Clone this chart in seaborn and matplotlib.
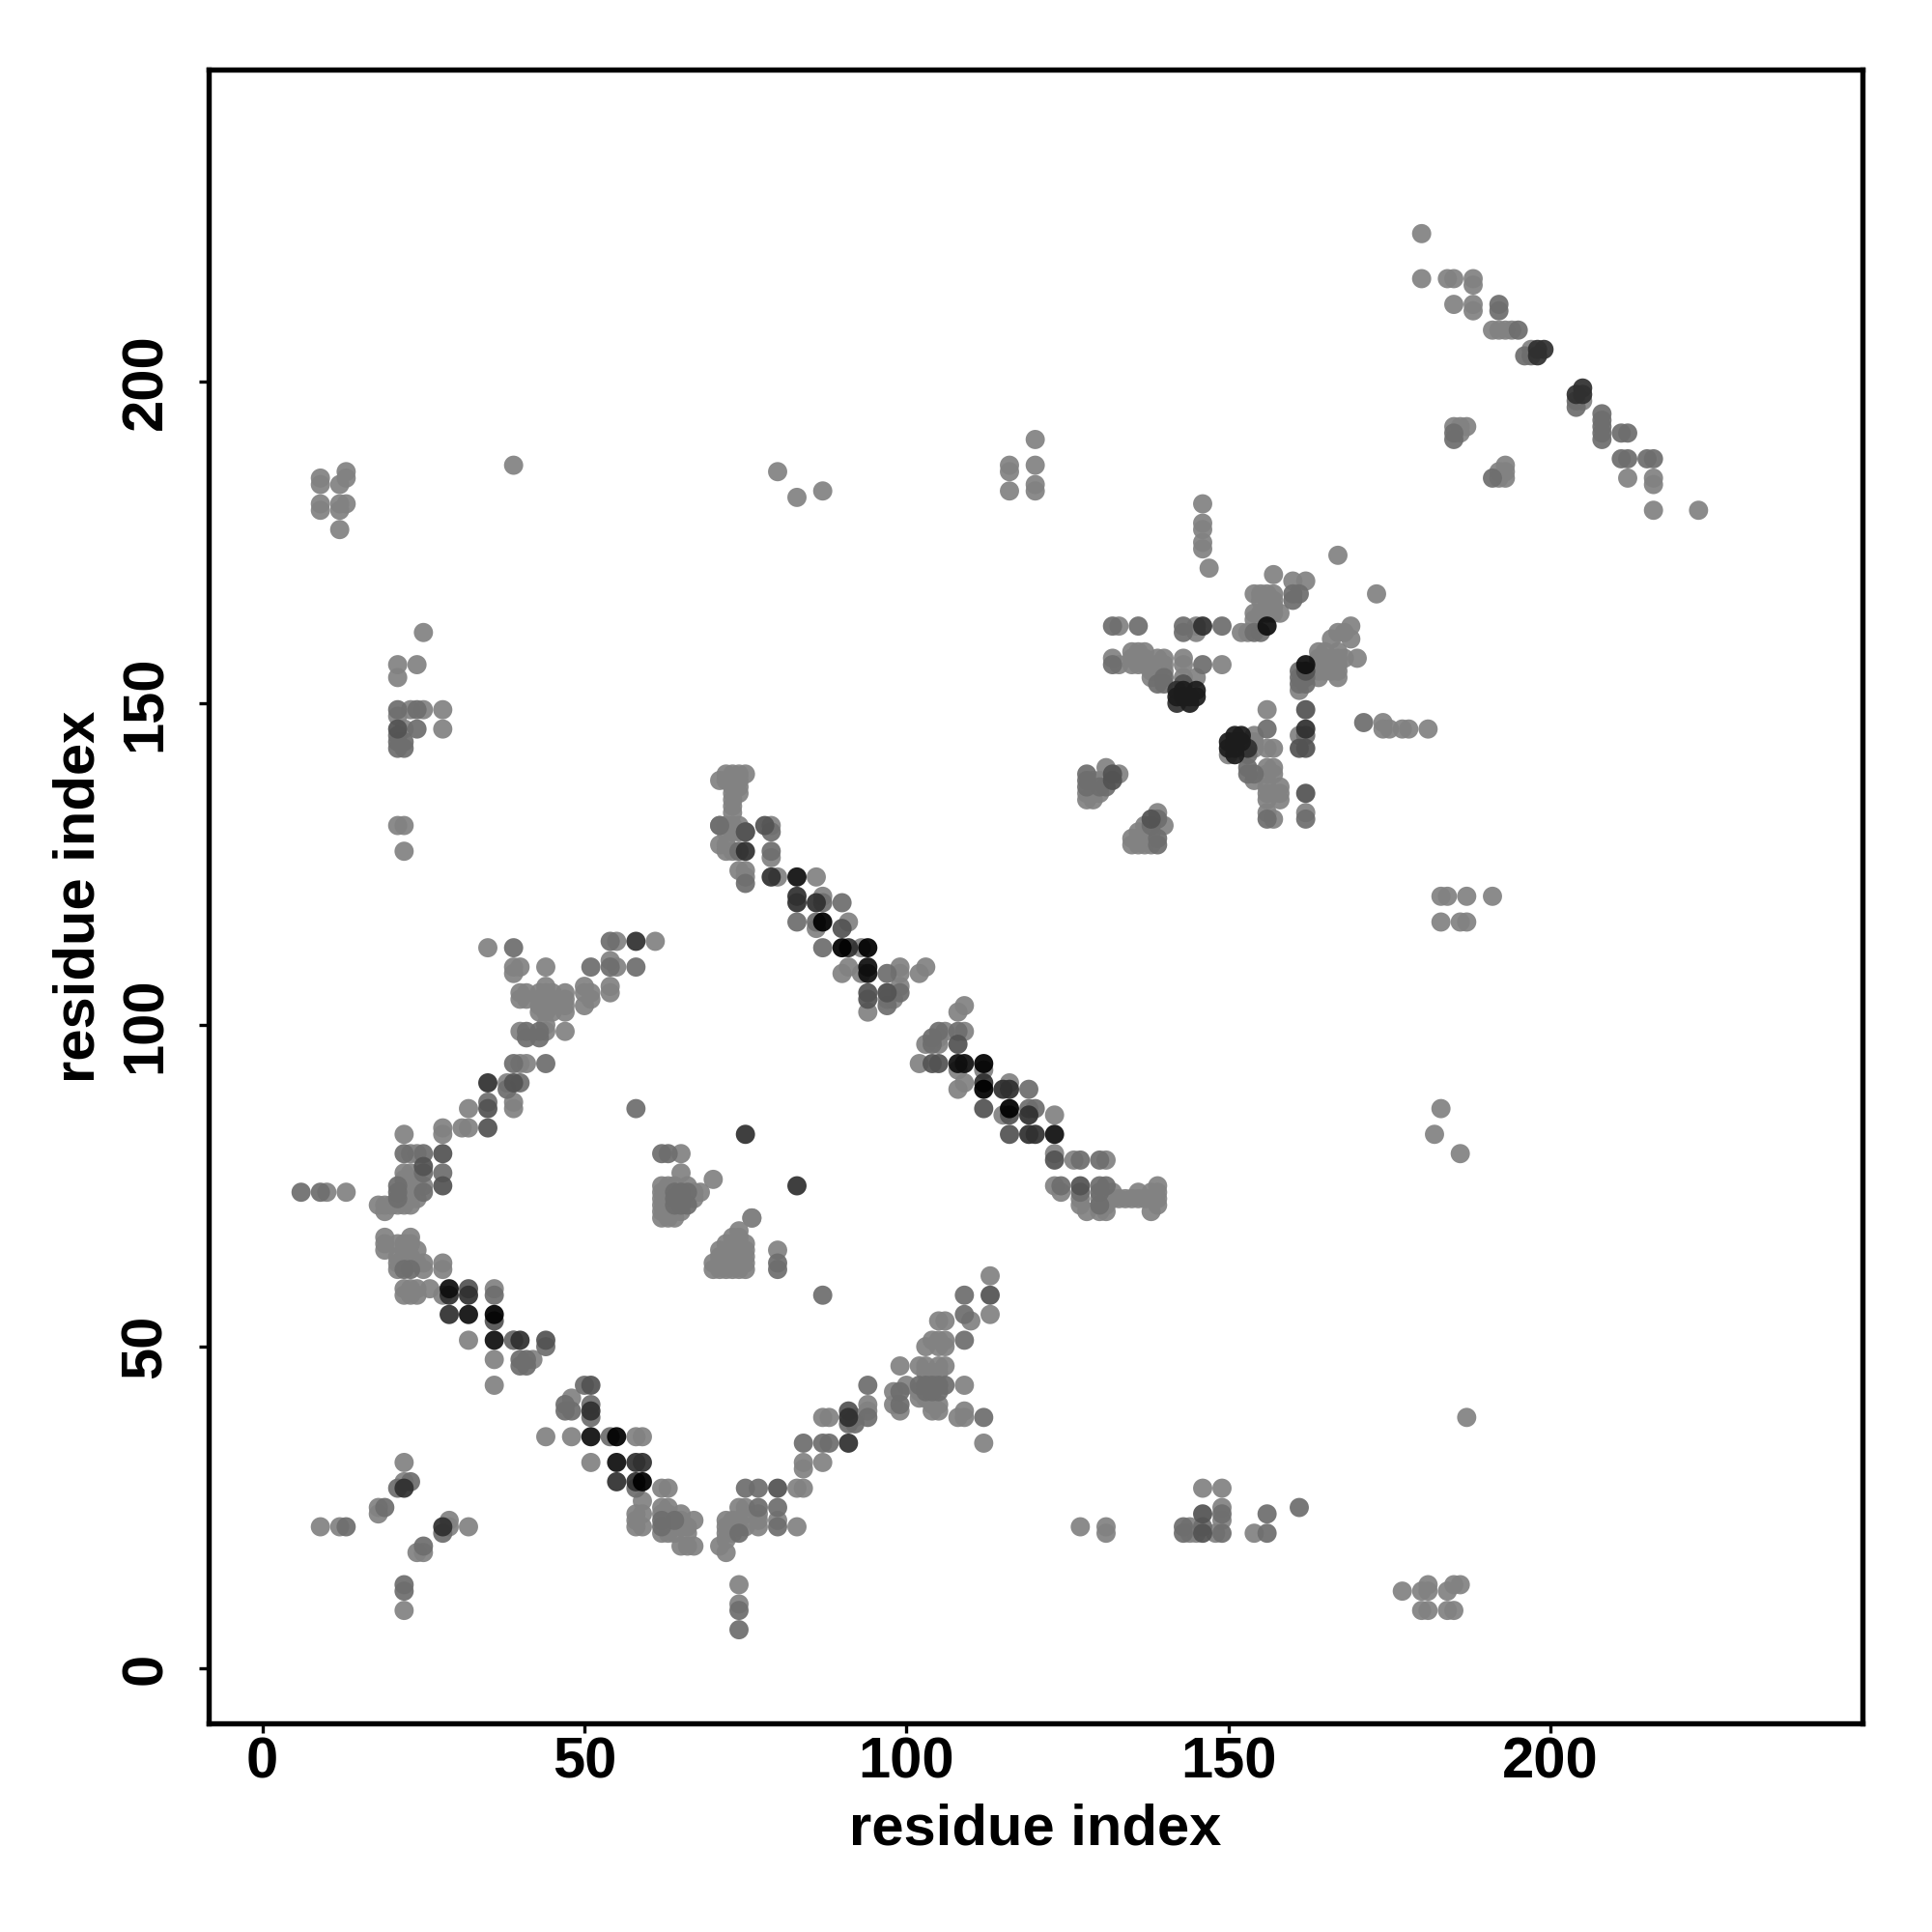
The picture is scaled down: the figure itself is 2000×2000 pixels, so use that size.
import matplotlib
matplotlib.use("Agg")
import matplotlib.pyplot as plt
import pandas as pd
import seaborn as sns

tick_values = [0, 50, 100, 150, 200]
axis_label = "residue index"

points_light = [
    (9,22),(12,22),(18,24),(18,25),(22,32),(22,29),(24,18),(25,18),(22,9),(29,23),(29,22),(32,22),
    (19,67),(19,66),(19,65),(23,67),(21,66),(22,66),(23,66),(24,65),(21,64),(22,64),(23,64),(25,63),(24,63),(21,63),(21,62),(25,62),(28,63),(28,62),
    (22,59),(23,59),(24,59),(26,59),(22,58),(23,58),(24,58),(28,58),(36,59),(32,51),(39,51),(36,48),(42,48),(36,44),(48,42),(44,36),(48,36),(58,36),(59,36),(51,32),
    (62,28),(63,28),(59,26),(58,24),(58,23),(58,22),(59,24),(59,22),(62,25),(63,25),(62,24),(63,24),(65,24),(63,22),(62,21),(65,22),(66,22),(67,23),(66,21),(65,19),(66,19),(67,19),(64,21),(63,21),(65,23),
    (71,19),(72,18),(72,20),(72,23),(72,22),(72,21),(74,25),(74,22),(73,21),(75,22),(77,22),(77,23),(75,25),(75,24),(77,24),(73,23),(74,23),(80,23),(83,22),(83,28),(84,28),(84,32),(84,31),(74,13),(74,10),
    (70,62),(71,62),(72,62),(73,62),(74,62),(75,62),(70,63),(71,63),(72,63),(73,63),(74,63),(75,63),(71,64),(72,64),(73,64),(74,64),(75,64),(71,65),(72,65),(73,65),(74,65),(75,65),(72,66),(73,66),(74,66),(75,66),(73,67),(74,67),(74,68),(76,70),(80,65),
    (113,61),(113,55),(105,54),(106,54),(110,54),(104,51),(105,51),(106,51),(103,50),(105,50),(106,50),(99,47),(102,47),(103,47),(105,47),(106,47),(103,46),(104,46),(105,46),(109,44),(100,44),(98,43),(102,43),(103,42),(102,42),(98,41),(104,41),(105,41),(99,40),(104,40),(105,40),(109,40),(108,39),(109,39),(112,35),(94,41),(94,40),(87,39),(88,39),(92,39),(87,32),
    (127,22),(131,22),(131,21),(146,28),(149,28),(149,25),(149,23),(144,22),(144,21),(145,21),(148,21),(154,21),
    (35,112),(39,109),(40,109),(39,108),(44,109),(54,110),(55,109),(55,113),(61,113),(54,106),(54,105),(50,106),(50,105),(50,103),(51,105),(51,104),
    (40,105),(41,105),(44,106),(43,105),(44,105),(45,105),(47,105),(40,104),(41,104),(43,104),(44,104),(45,104),(47,104),(43,103),(44,103),(45,103),(47,103),(43,102),(44,102),(45,102),(47,102),
    (40,99),(44,99),(47,99),(44,100),(40,94),(41,94),(38,91),(39,88),(39,87),(32,87),(31,84),(32,84),(28,84),(28,83),(22,83),(23,80),(24,80),(22,77),(23,77),(22,75),(23,75),(24,75),(25,75),(22,74),(23,74),(18,72),(19,72),(20,72),(21,72),(22,72),(23,72),(19,71),(22,73),(23,73),(24,73),(24,76),(23,76),(22,76),
    (10,74),(13,74),(65,80),(65,77),(70,76),(76,70),(62,75),(63,75),(64,75),(66,75),(67,74),(68,74),(62,74),(63,74),(62,73),(66,73),(67,73),(62,72),(63,72),(62,71),(63,71),(64,71),(65,71),(62,70),(63,70),(64,70),
    (72,139),(73,139),(74,139),(75,139),(71,138),(72,138),(73,138),(74,138),(73,137),(74,137),(73,136),(74,136),(73,135),(73,134),(73,133),(71,131),(72,131),(73,131),(74,131),(79,131),(72,130),(73,130),(74,130),(71,128),(72,128),(72,127),(73,127),(79,126),(74,124),(75,124),(75,123),(80,123),(86,123),
    (87,120),(86,115),(91,116),(93,112),(90,108),(91,109),(93,108),(99,109),(99,108),(102,108),(103,109),(94,102),(97,105),(99,106),(98,104),(97,104),(109,103),(108,102),(106,99),(109,99),(105,98),(103,97),(105,97),(102,94),(108,93),(112,93),(108,90),(109,91),(116,91),(115,86),(123,86),(123,80),(126,79),(131,79),
    (123,75),(124,74),(127,73),(127,72),(128,71),(130,73),(131,71),(131,73),(132,74),(132,73),(133,73),(134,73),(135,73),(136,74),(136,73),(137,73),(138,74),(138,73),(139,75),(139,74),(139,73),(138,71),(139,72),(130,71),(131,72),
    (131,140),(133,139),(129,138),(130,138),(129,137),(128,136),(129,136),(130,136),(128,135),(129,135),(139,133),(140,131),(137,131),(136,130),(137,130),(138,130),(135,129),(136,129),(137,129),(135,128),(136,128),(137,128),(138,128),
    (133,162),(145,162),(145,161),(152,161),(153,161),(132,157),(133,156),(135,158),(136,158),(137,158),(135,157),(136,157),(137,157),(135,156),(136,156),(137,156),(139,157),(140,157),(138,156),(139,156),(140,156),(143,157),(143,156),(149,156),(138,155),(139,155),(140,155),(138,154),(143,154),(145,154),
    (146,181),(146,178),(146,177),(146,175),(146,174),(147,171),(167,173),(173,167),(157,170),(160,169),(162,169),(154,167),(155,167),(156,167),(157,167),(155,166),(156,166),(157,166),(154,164),(156,165),(157,165),(158,164),(155,164),(156,164),(157,164),(154,163),
    (169,162),(167,161),(168,161),(166,160),(169,160),(164,158),(165,158),(167,158),(164,157),(165,157),(166,157),(167,157),(168,157),(164,156),(165,156),(166,156),(167,156),(170,157),(164,154),(167,154),(164,155),(165,155),(166,155),(167,155),(161,152),
    (156,149),(161,145),(174,147),(174,146),(175,146),(177,146),(178,146),(181,146),(150,142),(154,145),(153,144),(154,144),(154,143),(156,143),(157,143),(154,138),(156,140),(157,140),(156,139),(157,139),(156,137),(158,137),(156,136),(158,136),(156,135),(158,135),(156,133),(157,132),(162,133),
    (180,223),(180,216),(184,216),(185,216),(188,216),(188,215),(185,212),(188,212),(188,211),(191,208),(192,208),(193,208),(194,208),(197,205),(205,197),(212,185),(216,185),(216,184),(216,180),(223,180),(185,193),(186,193),(187,193),(186,192),(193,187),(192,186),(193,186),(192,185),(193,185),
    (9,181),(9,180),(9,185),(9,184),(12,184),(13,186),(13,185),(12,181),(12,180),(13,181),(12,177),(39,187),(80,186),(83,182),(87,183),(120,191),(116,187),(116,186),(116,183),(120,187),(120,184),(120,183),
    (25,161),(21,156),(24,156),(21,154),(23,149),(25,149),(28,149),(22,146),(28,146),(21,148),(21,131),(22,131),(22,127),
    (183,120),(184,120),(187,120),(191,120),(183,116),(186,116),(187,116),(183,87),(182,83),(186,80),(187,39),
    (177,12),(180,12),(181,13),(181,12),(184,12),(185,13),(186,13),(180,9),(181,9),(184,9),(185,9),
]
points_mid = [
    (13,22),(19,25),(23,29),(21,28),(28,21),(25,19),(22,13),(22,12),
    (36,58),(22,62),(23,62),(39,51),(44,50),(40,48),(40,47),(41,48),(41,47),(50,44),(47,41),(48,40),(47,40),(51,41),(51,39),(54,36),(58,28),
    (64,23),(62,23),(62,22),(77,25),(80,25),(80,22),(75,28),(77,28),(84,35),(74,9),(74,6),(74,21),(80,63),(80,62),
    (87,58),(109,58),(109,55),(109,51),(106,44),(102,44),(103,44),(104,44),(105,44),(94,44),(99,43),(103,43),(104,43),(105,43),(99,41),(112,39),(94,39),(92,38),(91,38),(87,35),(88,35),(161,25),(156,24),(156,21),(146,22),(143,22),(143,21),(149,24),(149,21),(131,75),
    (39,112),(51,109),(54,109),(58,109),(54,113),(58,87),(41,99),(43,99),(41,98),(43,98),(39,94),(44,94),(40,91),(38,90),(35,88),
    (22,80),(25,77),(28,77),(21,75),(21,73),(25,74),(21,74),(6,74),(9,74),(25,80),(62,80),(63,80),
    (64,74),(65,74),(66,74),(64,73),(65,73),(64,72),(65,72),(66,72),
    (71,131),(75,130),(79,130),(74,127),(79,127),(75,122),
    (86,116),(83,116),(87,119),(90,119),(87,112),(97,108),(99,105),(97,103),(108,99),(105,99),(104,98),(104,97),(119,90),(119,87),(120,87),(127,79),(130,79),(124,75),(130,75),(127,74),(130,74),(130,72),
    (128,139),(128,138),(128,137),(130,137),(131,137),(138,131),(139,132),(139,129),(139,128),
    (132,162),(136,162),(143,162),(149,162),(143,161),(154,161),(155,161),(132,156),(146,156),(139,153),(140,154),(140,153),
    (160,167),(161,167),(160,166),(161,155),(161,154),(162,154),(161,153),(162,153),(162,145),
    (171,147),(156,146),(153,142),(153,140),(154,139),(153,139),(156,132),(162,132),
    (192,212),(192,211),(195,208),(196,204),(197,204),(204,197),(204,196),(208,195),(208,194),(208,193),(208,192),(208,191),(211,192),(212,192),(211,188),(212,188),(215,188),(216,188),(185,192),(185,191),(191,185),
    (21,149),(24,149),(24,146),(21,145),(21,144),(21,143),(22,144),(22,143),
]
points_strong = [
    (32,59),(36,54),(44,51),(51,44),(80,28),(91,40),(146,24),(146,21),(113,58),(28,80),(25,78),(28,75),(35,84),(35,87),(39,91),
    (75,130),(78,131),(97,105),(94,105),(94,104),(90,115),(108,97),(105,94),(104,94),(112,87),(116,86),(116,83),(123,79),(127,75),
    (132,139),(132,138),(138,132),(162,155),(162,149),(161,143),(162,143),(162,136),(21,146),(143,153),
]
points_dark = [
    (22,28),(28,22),(29,58),(32,58),(29,55),(40,51),(51,40),(58,32),(59,32),(55,29),(58,29),(91,39),(91,35),(35,91),(58,113),
    (75,127),(79,123),(83,120),(83,119),(86,119),(91,112),(112,91),(115,90),(116,90),(119,86),(119,83),(120,83),(75,83),(83,75),
    (146,162),(142,152),(142,150),(153,143),(162,146),(198,205),(199,205),(198,204),(205,199),(204,198),(205,198),
]
points_core = [
    (142,151),(143,152),(143,151),(144,151),(144,150),(145,152),(145,151),
    (151,145),(152,145),(150,144),(151,144),(152,144),(150,143),(151,143),(151,142),
]
points_black = [
    (29,59),(32,55),(36,51),(51,36),(55,32),(83,123),(94,109),(94,108),(108,94),(109,94),(123,83),
    (156,162),(162,156),
]
points_deepest = [
    (36,55),(55,36),(59,29),(87,116),(90,112),(94,112),(112,94),(112,90),(116,87),
]

groups = [
    (points_light, 0.51),
    (points_mid, 0.43),
    (points_strong, 0.325),
    (points_dark, 0.19),
    (points_core, 0.11),
    (points_black, 0.06),
    (points_deepest, 0.0),
]
frames = [pd.DataFrame(pts, columns=["x", "y"]).assign(shade=v) for pts, v in groups]
df = pd.concat(frames, ignore_index=True)

sns.set_theme(style="white")
plt.rcParams["font.family"] = ["Liberation Sans", "DejaVu Sans"]
plt.rcParams["font.weight"] = "bold"

fig = plt.figure(figsize=(20, 20), dpi=100, facecolor="white")
ax = fig.add_axes([216/2000, 1 - 1784/2000, (1928-216)/2000, (1784-72)/2000])

sns.scatterplot(data=df, x="x", y="y", hue="shade", palette="gray", hue_norm=(0, 1),
                s=205, linewidth=0, alpha=0.93, legend=False, ax=ax)

ax.set_xlim(-8.35, 248.45)
ax.set_ylim(-8.55, 248.5)
ax.set_xticks(tick_values)
ax.set_yticks(tick_values)
ax.set_xlabel(axis_label, fontsize=43, fontweight="bold", color="black", labelpad=10.5)
ax.set_ylabel(axis_label, fontsize=43, fontweight="bold", color="black", labelpad=10.5)
ax.tick_params(axis="both", which="major", length=7, width=2.4, color="black",
               labelsize=43, labelcolor="black", bottom=True, left=True)
ax.tick_params(axis="x", pad=2.5)
ax.tick_params(axis="y", pad=19.7)
for lab in ax.get_yticklabels():
    lab.set_rotation(90)
    lab.set_va("center")
for lab in ax.get_xticklabels() + ax.get_yticklabels():
    lab.set_fontweight("bold")
for s in ax.spines.values():
    s.set_visible(True)
    s.set_linewidth(3.9)
    s.set_color("black")

fig.savefig("out.png", dpi=100, facecolor="white")
